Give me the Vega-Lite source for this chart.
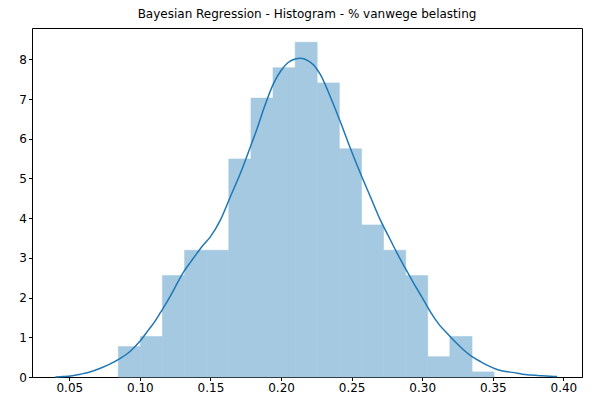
{
  "$schema": "https://vega.github.io/schema/vega-lite/v6.json",
  "width": 550,
  "height": 349,
  "autosize": "none",
  "padding": {"left": 32, "top": 28, "right": 10, "bottom": 24},
  "background": "white",
  "config": {
    "font": "DejaVu Sans",
    "view": {"stroke": "#000", "strokeWidth": 1},
    "axis": {
      "grid": false,
      "domainColor": "#000",
      "domainWidth": 1,
      "tickColor": "#000",
      "tickWidth": 1,
      "tickSize": 3.5,
      "labelFont": "DejaVu Sans",
      "labelFontSize": 12,
      "labelColor": "#000",
      "labelPadding": 2,
      "labelFlush": false,
      "labelOverlap": false,
      "title": null
    }
  },
  "title": {
    "text": "Bayesian Regression - Histogram - % vanwege belasting",
    "font": "DejaVu Sans",
    "fontSize": 12,
    "fontWeight": "normal",
    "color": "#000",
    "offset": 7
  },
  "datasets": {
    "hist": [
      {"start": 0.0847, "end": 0.1004, "density": 0.766},
      {"start": 0.1004, "end": 0.1160, "density": 1.022},
      {"start": 0.1160, "end": 0.1317, "density": 2.554},
      {"start": 0.1317, "end": 0.1473, "density": 3.193},
      {"start": 0.1473, "end": 0.1630, "density": 3.193},
      {"start": 0.1630, "end": 0.1787, "density": 5.491},
      {"start": 0.1787, "end": 0.1943, "density": 7.024},
      {"start": 0.1943, "end": 0.2100, "density": 7.790},
      {"start": 0.2100, "end": 0.2256, "density": 8.429},
      {"start": 0.2256, "end": 0.2413, "density": 7.407},
      {"start": 0.2413, "end": 0.2570, "density": 5.747},
      {"start": 0.2570, "end": 0.2726, "density": 3.831},
      {"start": 0.2726, "end": 0.2883, "density": 3.193},
      {"start": 0.2883, "end": 0.3039, "density": 2.554},
      {"start": 0.3039, "end": 0.3196, "density": 0.511},
      {"start": 0.3196, "end": 0.3353, "density": 1.022},
      {"start": 0.3353, "end": 0.3509, "density": 0.128}
    ],
    "kde": [
      {"x": 0.0401, "y": 0.00},
      {"x": 0.0460, "y": 0.01},
      {"x": 0.0520, "y": 0.03},
      {"x": 0.0578, "y": 0.07},
      {"x": 0.0640, "y": 0.12},
      {"x": 0.0720, "y": 0.22},
      {"x": 0.0790, "y": 0.33},
      {"x": 0.0861, "y": 0.47},
      {"x": 0.0932, "y": 0.65},
      {"x": 0.1000, "y": 0.90},
      {"x": 0.1060, "y": 1.18},
      {"x": 0.1110, "y": 1.42},
      {"x": 0.1145, "y": 1.62},
      {"x": 0.1190, "y": 1.88},
      {"x": 0.1239, "y": 2.19},
      {"x": 0.1310, "y": 2.65},
      {"x": 0.1360, "y": 2.90},
      {"x": 0.1405, "y": 3.12},
      {"x": 0.1450, "y": 3.33},
      {"x": 0.1499, "y": 3.53},
      {"x": 0.1570, "y": 3.95},
      {"x": 0.1641, "y": 4.54},
      {"x": 0.1712, "y": 5.13},
      {"x": 0.1783, "y": 5.80},
      {"x": 0.1830, "y": 6.25},
      {"x": 0.1877, "y": 6.75},
      {"x": 0.1948, "y": 7.40},
      {"x": 0.2000, "y": 7.72},
      {"x": 0.2050, "y": 7.92},
      {"x": 0.2100, "y": 8.01},
      {"x": 0.2137, "y": 8.03},
      {"x": 0.2190, "y": 7.97},
      {"x": 0.2231, "y": 7.86},
      {"x": 0.2278, "y": 7.62},
      {"x": 0.2349, "y": 7.06},
      {"x": 0.2420, "y": 6.43},
      {"x": 0.2491, "y": 5.76},
      {"x": 0.2562, "y": 5.13},
      {"x": 0.2633, "y": 4.54},
      {"x": 0.2704, "y": 3.95},
      {"x": 0.2775, "y": 3.45},
      {"x": 0.2822, "y": 3.12},
      {"x": 0.2880, "y": 2.74},
      {"x": 0.2940, "y": 2.36},
      {"x": 0.3000, "y": 2.00},
      {"x": 0.3058, "y": 1.64},
      {"x": 0.3120, "y": 1.32},
      {"x": 0.3176, "y": 1.10},
      {"x": 0.3235, "y": 0.88},
      {"x": 0.3294, "y": 0.68},
      {"x": 0.3350, "y": 0.52},
      {"x": 0.3412, "y": 0.39},
      {"x": 0.3470, "y": 0.28},
      {"x": 0.3530, "y": 0.19},
      {"x": 0.3590, "y": 0.14},
      {"x": 0.3649, "y": 0.11},
      {"x": 0.3710, "y": 0.07},
      {"x": 0.3767, "y": 0.05},
      {"x": 0.3850, "y": 0.03},
      {"x": 0.3956, "y": 0.01}
    ]
  },
  "layer": [
    {
      "data": {"name": "hist"},
      "mark": {"type": "rect", "fill": "#a5c9e1", "stroke": "#a5c9e1", "strokeWidth": 0.6},
      "encoding": {
        "x": {"field": "start", "type": "quantitative",
              "scale": {"domain": [0.02357, 0.4132], "nice": false, "zero": false},
              "axis": {"values": [0.05, 0.1, 0.15, 0.2, 0.25, 0.3, 0.35, 0.4], "format": ".2f"}},
        "x2": {"field": "end"},
        "y": {"field": "density", "type": "quantitative",
              "scale": {"domain": [0, 8.79], "nice": false},
              "axis": {"values": [0, 1, 2, 3, 4, 5, 6, 7, 8], "format": "d"}},
        "y2": {"datum": 0}
      }
    },
    {
      "data": {"name": "kde"},
      "mark": {"type": "line", "color": "#1f77b4", "strokeWidth": 1.5, "interpolate": "monotone"},
      "encoding": {
        "x": {"field": "x", "type": "quantitative"},
        "y": {"field": "y", "type": "quantitative"}
      }
    }
  ]
}
